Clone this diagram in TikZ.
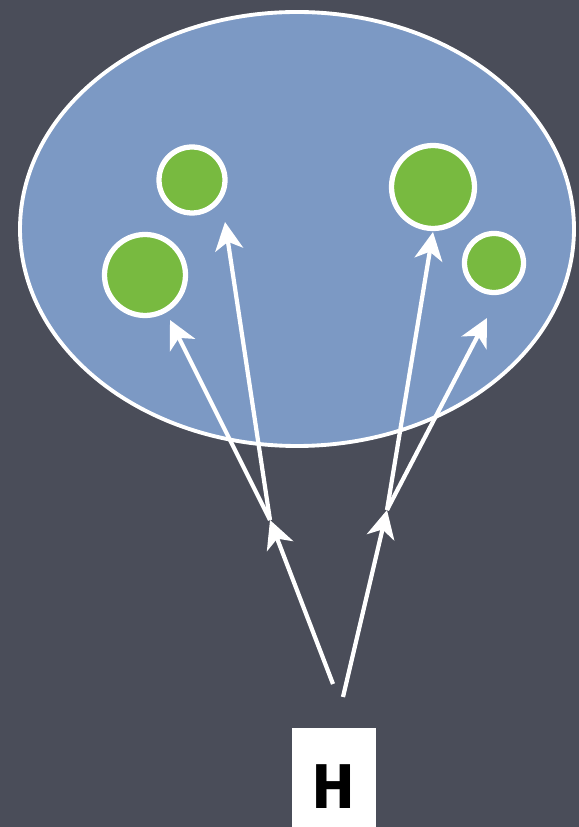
\documentclass[tikz,border=0pt]{standalone}
\usepackage{fontspec}
\setsansfont{Fira Sans}
\usetikzlibrary{arrows.meta}
\definecolor{slate}{RGB}{74,77,89}
\definecolor{setblue}{RGB}{124,153,196}
\definecolor{ballgreen}{RGB}{120,186,64}

\begin{document}
\begin{tikzpicture}[x=1cm,y=1cm,
  ball/.style={circle,draw=white,line width=3pt,fill=ballgreen,inner sep=0pt},
  map/.style={draw=white,line width=2.4pt,-{Stealth[length=0.56cm,width=0.56cm,inset=0.16cm]}}]
\fill[slate] (0,0) rectangle (11.58,16.54);
\useasboundingbox (0,0) rectangle (11.58,16.54);

\draw[white,line width=2.2pt,fill=setblue] (5.94,11.96) ellipse (5.54 and 4.34);

\node[ball,minimum size=1.32cm] (x1) at (3.84,12.94) {};
\node[ball,minimum size=1.62cm] (x2) at (2.90,11.04) {};
\node[ball,minimum size=1.66cm] (x3) at (8.66,12.80) {};
\node[ball,minimum size=1.18cm] (x4) at (9.88,11.28) {};

\node[fill=white,inner sep=0pt,minimum width=1.68cm,minimum height=1.98cm,
  text height=1.4cm,text depth=0.15cm,
  font=\sffamily\bfseries\fontsize{36}{42}\selectfont] (H) at (6.68,0.99) {H};

\coordinate (s1) at (6.66,2.86);
\coordinate (s2) at (6.86,2.60);
\coordinate (j1) at (5.40,6.14);
\coordinate (j2) at (7.74,6.34);
\coordinate (t1) at (3.40,10.14);
\coordinate (t2) at (4.50,12.10);
\coordinate (t3) at (8.66,11.90);
\coordinate (t4) at (9.74,10.18);

\draw[map] (s1) -- (j1);
\draw[map] (s2) -- (j2);
\draw[map] (j1) -- (t1);
\draw[map] (j1) -- (t2);
\draw[map] (j2) -- (t3);
\draw[map] (j2) -- (t4);
\end{tikzpicture}
\end{document}
